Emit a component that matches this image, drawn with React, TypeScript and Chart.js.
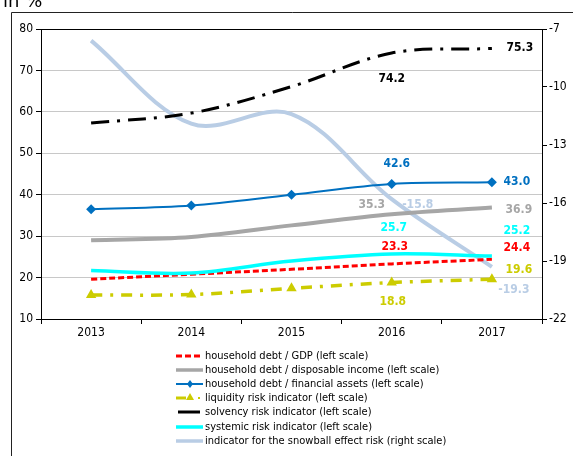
import React, { useEffect, useRef } from 'react';
import { Chart, registerables } from 'chart.js';
Chart.register(...registerables);

const years = ['2013', '2014', '2015', '2016', '2017'];
const debtGdp = [19.6, 20.8, 22.0, 23.3, 24.4];
const debtIncome = [29.0, 29.8, 32.6, 35.3, 36.9];
const debtAssets = [36.5, 37.4, 40.0, 42.6, 43.0];
const liquidity = [15.8, 15.9, 17.4, 18.8, 19.6];
const solvency = [57.3, 59.7, 66.1, 74.2, 75.3];
const systemic = [21.7, 21.1, 24.0, 25.7, 25.2];
const snowball = [-7.6, -11.9, -11.4, -15.8, -19.3];

const leftMin = 10, leftMax = 80, leftStep = 10;
const rightMin = -22, rightMax = -7, rightStep = 3;

const seriesNames = [
  'household debt / GDP (left scale)',
  'household debt / disposable income (left scale)',
  'household debt / financial assets (left scale)',
  'liquidity risk indicator (left scale)',
  'solvency risk indicator (left scale)',
  'systemic risk indicator (left scale)',
  'indicator for the snowball effect risk (right scale)',
];

const FONT = "'DejaVu Sans Condensed', 'Liberation Sans', sans-serif";

const C_RED = '#ff0000';
const C_GRAY = '#a6a6a6';
const C_BLUE = '#0070c0';
const C_YEL = '#cccc00';
const C_BLACK = '#000000';
const C_CYAN = '#00ffff';
const C_LBLUE = '#b9cde5';

// label placements: [datasetIndex, pointIndex, dx, dy, color]
const labelSpecs: [number, number, number, number, string][] = [
  [4, 3, 0, 26, C_BLACK],
  [4, 4, 28, -1, C_BLACK],
  [2, 3, 5, -20, C_BLUE],
  [2, 4, 25, 0, C_BLUE],
  [1, 3, -20, -9, C_GRAY],
  [1, 4, 27, 2, C_GRAY],
  [6, 3, 26, 6, C_LBLUE],
  [6, 4, 22, 23, C_LBLUE],
  [5, 3, 2, -26, C_CYAN],
  [5, 4, 25, -25, C_CYAN],
  [0, 3, 3, -17, C_RED],
  [0, 4, 25, -11, C_RED],
  [3, 3, 1, 19, C_YEL],
  [3, 4, 27, -9, C_YEL],
];

const framePlugin = {
  id: 'frame',
  beforeDraw(chart: any) {
    const ctx = chart.ctx;
    ctx.save();
    ctx.fillStyle = '#fff';
    ctx.fillRect(0, 0, chart.width, chart.height);
    ctx.strokeStyle = '#222';
    ctx.lineWidth = 1;
    ctx.beginPath();
    ctx.moveTo(11.5, chart.height + 2);
    ctx.lineTo(11.5, 12.5);
    ctx.lineTo(chart.width + 2, 12.5);
    ctx.stroke();
    ctx.fillStyle = '#000';
    ctx.font = `18px 'DejaVu Sans', sans-serif`;
    ctx.textBaseline = 'alphabetic';
    ctx.textAlign = 'left';
    ctx.fillText('in %', 3, 7);
    ctx.restore();
  },
};

const labelsPlugin = {
  id: 'valueLabels',
  afterDatasetsDraw(chart: any) {
    const ctx = chart.ctx;
    ctx.save();
    ctx.font = `bold 12px ${FONT}`;
    ctx.textAlign = 'center';
    ctx.textBaseline = 'middle';
    labelSpecs.forEach(([ds, i, dx, dy, color]) => {
      const meta = chart.getDatasetMeta(ds);
      const pt = meta.data[i];
      const v = chart.data.datasets[ds].data[i] as number;
      ctx.fillStyle = color;
      ctx.fillText(v.toFixed(1), pt.x + dx, pt.y + dy);
    });
    ctx.restore();
  },
};

const legendPlugin = {
  id: 'customLegend',
  afterDraw(chart: any) {
    const ctx = chart.ctx;
    ctx.save();
    const x0 = 176, x1 = 203, tx = 205;
    const rows = [356, 370, 384, 398, 412, 427, 441];
    const line = (y: number, color: string, w: number, dash: number[], a = x0, b = x1) => {
      ctx.strokeStyle = color;
      ctx.lineWidth = w;
      ctx.setLineDash(dash);
      ctx.beginPath();
      ctx.moveTo(a, y);
      ctx.lineTo(b, y);
      ctx.stroke();
      ctx.setLineDash([]);
    };
    line(rows[0], C_RED, 3, [6, 3]);
    line(rows[1], C_GRAY, 3.5, []);
    line(rows[2], C_BLUE, 2, []);
    ctx.fillStyle = C_BLUE;
    ctx.beginPath();
    const cx = 190, cy = rows[2];
    ctx.moveTo(cx, cy - 4); ctx.lineTo(cx + 3, cy); ctx.lineTo(cx, cy + 4); ctx.lineTo(cx - 3, cy); ctx.closePath();
    ctx.fill();
    line(rows[3], C_YEL, 3, [], 176, 186);
    ctx.fillStyle = C_YEL;
    ctx.beginPath();
    ctx.moveTo(190, rows[3] - 5); ctx.lineTo(194, rows[3] + 2); ctx.lineTo(186, rows[3] + 2); ctx.closePath();
    ctx.fill();
    ctx.fillRect(198, rows[3] - 1, 2, 2);
    line(rows[4], C_BLACK, 3, [], 178, 200);
    line(rows[5], C_CYAN, 3.5, []);
    line(rows[6], C_LBLUE, 3.5, []);
    ctx.fillStyle = '#000';
    ctx.font = `11px ${FONT}`;
    ctx.textAlign = 'left';
    ctx.textBaseline = 'middle';
    seriesNames.forEach((n, i) => ctx.fillText(n, tx, rows[i]));
    ctx.restore();
  },
};

export default function App() {
  const ref = useRef<HTMLCanvasElement | null>(null);
  useEffect(() => {
    document.body.style.margin = '0';
    const canvas = ref.current!;
    const common = { tension: 0.35, fill: false, pointRadius: 0 };
    const chart = new Chart(canvas, {
      type: 'line',
      data: {
        labels: years,
        datasets: [
          { ...common, label: seriesNames[0], data: debtGdp, borderColor: C_RED, borderWidth: 3, borderDash: [6, 3], yAxisID: 'y', order: 6 },
          { ...common, label: seriesNames[1], data: debtIncome, borderColor: C_GRAY, borderWidth: 4, yAxisID: 'y', order: 5 },
          { ...common, label: seriesNames[2], data: debtAssets, borderColor: C_BLUE, borderWidth: 2, yAxisID: 'y', order: 4,
            pointRadius: 5, pointStyle: 'rectRot', pointBackgroundColor: C_BLUE, pointBorderColor: C_BLUE, pointBorderWidth: 0 },
          { ...common, label: seriesNames[3], data: liquidity, borderColor: C_YEL, borderWidth: 3.5, borderDash: [11, 8, 3, 8], yAxisID: 'y', order: 3,
            pointRadius: 6, pointStyle: 'triangle', pointBackgroundColor: C_YEL, pointBorderColor: C_YEL, pointBorderWidth: 0 },
          { ...common, label: seriesNames[4], data: solvency, borderColor: C_BLACK, borderWidth: 3, borderDash: [18, 8, 3, 8], yAxisID: 'y', order: 2 },
          { ...common, label: seriesNames[5], data: systemic, borderColor: C_CYAN, borderWidth: 3.5, yAxisID: 'y', order: 1 },
          { ...common, label: seriesNames[6], data: snowball, borderColor: C_LBLUE, borderWidth: 4, yAxisID: 'y1', order: 7 },
        ],
      },
      options: {
        responsive: false,
        animation: false,
        devicePixelRatio: 1,
        layout: { padding: { left: 0, right: 0, top: 29, bottom: 107 } },
        plugins: { legend: { display: false }, tooltip: { enabled: false } },
        scales: {
          x: {
            type: 'category',
            offset: true,
            grid: { display: true, offset: true, drawOnChartArea: false, drawTicks: true, tickLength: 5, tickColor: '#000' },
            border: { display: true, color: '#000', width: 1 },
            ticks: { color: '#000', font: { family: FONT, size: 12 }, padding: 2, maxRotation: 0, autoSkip: false },
            afterFit: (s: any) => { s.height = 30; },
          },
          y: {
            position: 'left',
            min: leftMin,
            max: leftMax,
            ticks: { stepSize: leftStep, color: '#000', font: { family: FONT, size: 12 }, padding: 3 },
            grid: {
              color: (c: any) => (c.tick && c.tick.value === leftMax ? '#000' : '#c8c8c8'),
              tickColor: '#000',
              tickLength: 5,
              drawTicks: true,
            },
            border: { display: true, color: '#000', width: 1 },
            afterFit: (s: any) => { s.width = 41; },
          },
          y1: {
            position: 'right',
            min: rightMin,
            max: rightMax,
            ticks: { stepSize: rightStep, color: '#000', font: { family: FONT, size: 12 }, padding: 2 },
            grid: { display: true, drawOnChartArea: false, drawTicks: true, tickLength: 5, tickColor: '#000' },
            border: { display: true, color: '#000', width: 1 },
            afterFit: (s: any) => { s.width = 31; },
          },
        },
      },
      plugins: [framePlugin, labelsPlugin, legendPlugin],
    } as any);
    return () => chart.destroy();
  }, []);
  return <canvas ref={ref} width={573} height={456} style={{ display: 'block' }} />;
}
